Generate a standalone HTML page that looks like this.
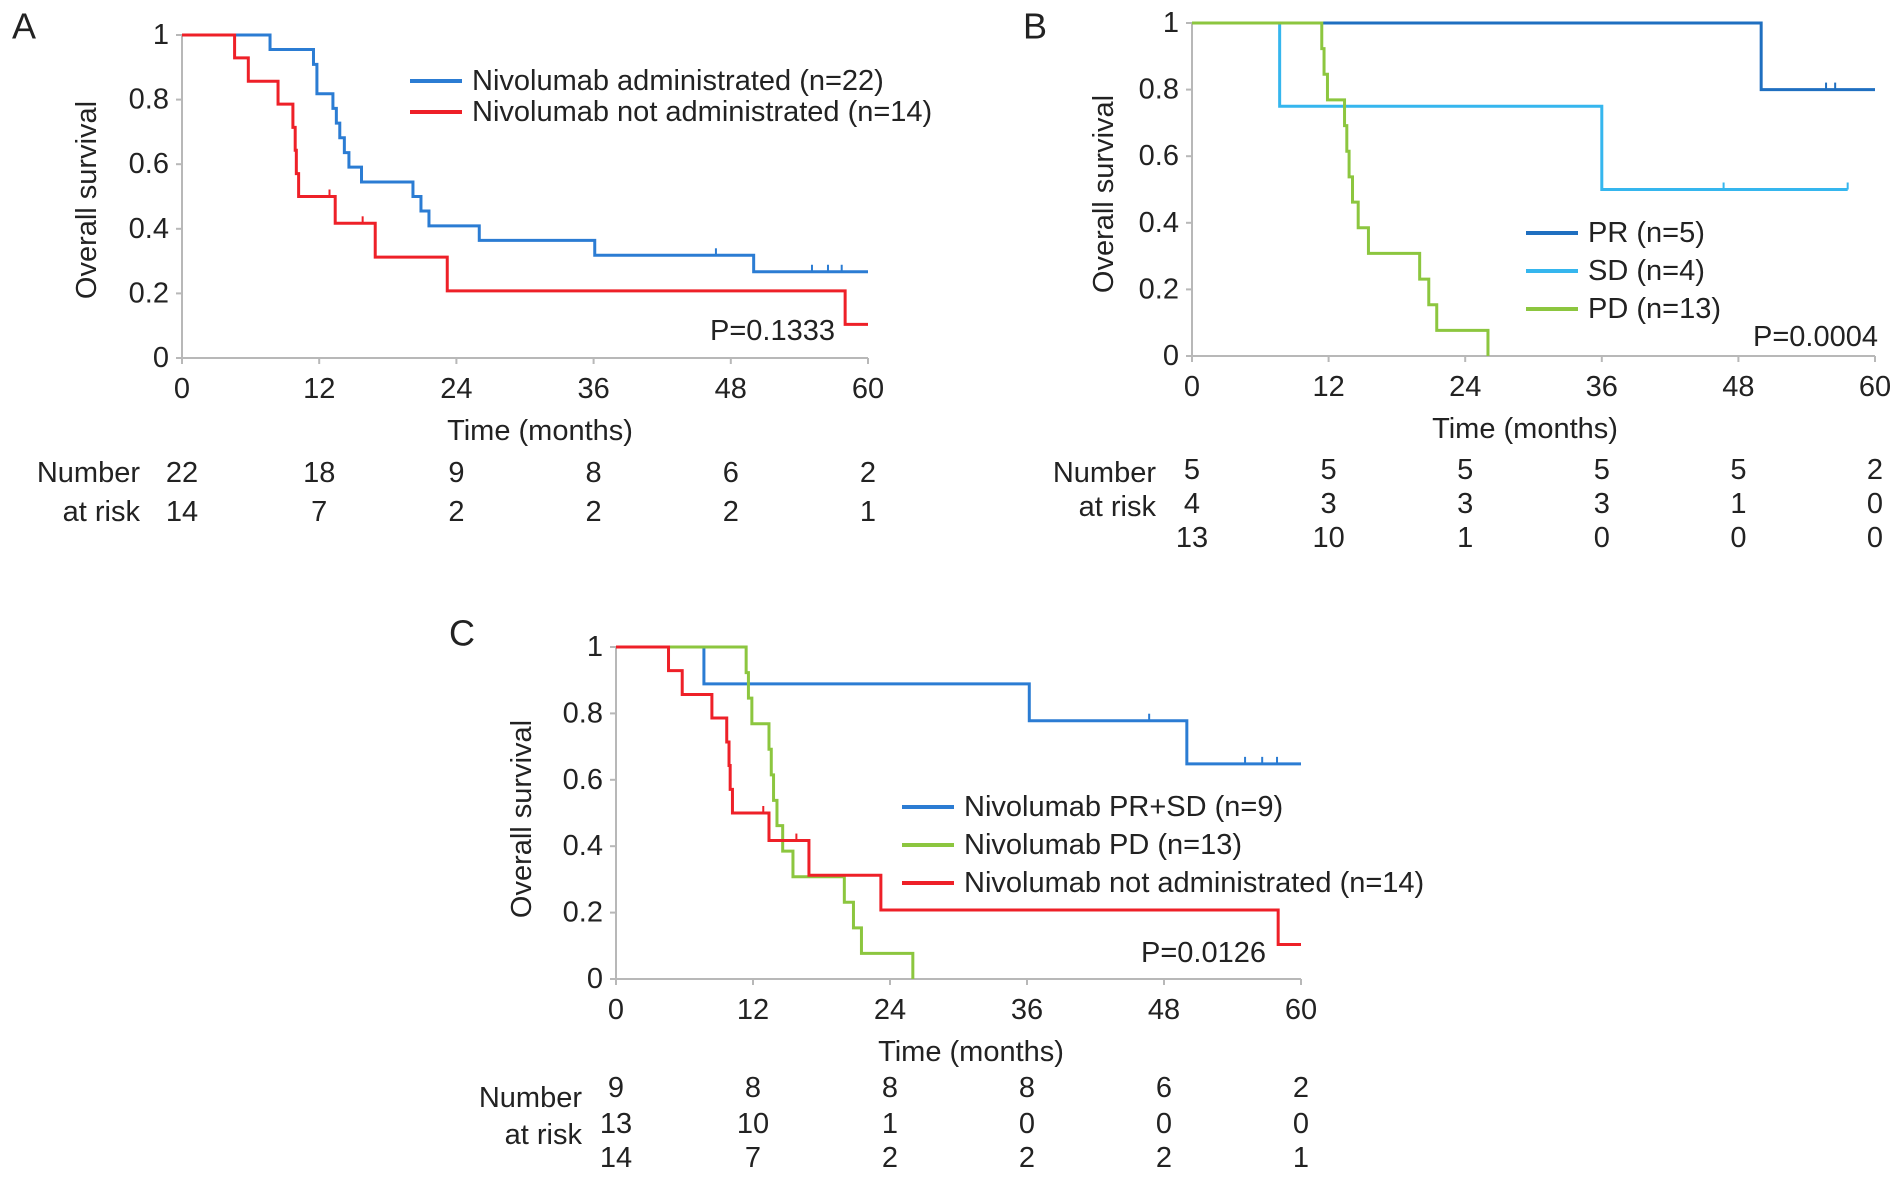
<!DOCTYPE html>
<html><head><meta charset="utf-8"><style>
html,body{margin:0;padding:0;background:#fff;}
svg{display:block;font-family:"Liberation Sans",Arial,sans-serif;}
text{fill:#222;}
</style></head><body>
<svg id="fig" width="1899" height="1177" viewBox="0 0 1899 1177" xmlns="http://www.w3.org/2000/svg"></svg>
<script>
// ---- data ----
const xTicks = [0,12,24,36,48,60];
const yTicks = [0,0.2,0.4,0.6,0.8,1];
const yTickLabels = ["0","0.2","0.4","0.6","0.8","1"];
// Panel A
const blueATimes = [0,7.7,11.5,11.8,13.2,13.5,13.8,14.2,14.6,15.7,20.2,20.9,21.6,26,36.1,50,60];
const blueASurv  = [1,0.955,0.909,0.818,0.773,0.727,0.682,0.636,0.591,0.545,0.5,0.455,0.409,0.364,0.318,0.267,0.267];
const blueACens  = [46.7,55.1,56.5,57.7];
const redTimes = [0,4.6,5.8,8.4,9.7,9.9,10.0,10.2,13.4,16.9,23.2,58,60];
const redSurv  = [1,0.929,0.857,0.786,0.714,0.643,0.571,0.5,0.417,0.3125,0.208,0.104,0.104];
const redCens  = [12.9,15.8];
// Panel B
const prTimes = [0,50,60];
const prSurv  = [1,0.8,0.8];
const prCens  = [55.7,56.5];
const sdTimes = [0,7.7,36,57.6];
const sdSurv  = [1,0.75,0.5,0.5];
const sdCens  = [46.7,57.6];
const pdTimes = [0,11.4,11.6,11.9,13.4,13.6,13.8,14.1,14.6,15.5,20,20.8,21.5,26];
const pdSurv  = [1,0.923,0.846,0.769,0.692,0.615,0.538,0.462,0.385,0.308,0.231,0.154,0.077,0];
// Panel C
const blueCTimes = [0,7.7,36.2,50,60];
const blueCSurv  = [1,0.889,0.778,0.648,0.648];
const blueCCens  = [46.7,55.1,56.6,57.9];
// at-risk tables
const riskA = [[22,18,9,8,6,2],[14,7,2,2,2,1]];
const riskB = [[5,5,5,5,5,2],[4,3,3,3,1,0],[13,10,1,0,0,0]];
const riskC = [[9,8,8,8,6,2],[13,10,1,0,0,0],[14,7,2,2,2,1]];

const NS="http://www.w3.org/2000/svg";
const svg=document.getElementById('fig');
const FS=29;
function mk(tag,attrs,parent){const e=document.createElementNS(NS,tag);for(const k in attrs)e.setAttribute(k,attrs[k]);(parent||svg).appendChild(e);return e;}
function txt(s,x,y,anchor,size,parent){const t=mk('text',{x:x,y:y,'text-anchor':anchor,'font-size':size||FS,'dominant-baseline':'central'},parent);t.textContent=s;return t;}

const BLUE="#2b7cd3", RED="#ee2028", GREEN="#8cc63f", PRB="#1f6fc0", SDB="#35b6ee";

function panel(cfg){
  const g=mk('g',{});
  
  
  const X=t=>cfg.x0+(cfg.x1-cfg.x0)*t/60;
  const Y=v=>cfg.y0+(cfg.y1-cfg.y0)*v;
  const ax=mk('path',{d:`M${X(0)},${Y(1)} V${Y(0)} H${X(60)}`,stroke:'#b8b8b8','stroke-width':2,fill:'none'},g);
  
  
  xTicks.forEach(t=>{
    mk('line',{x1:X(t),x2:X(t),y1:Y(0),y2:Y(0)+6,stroke:'#b8b8b8','stroke-width':2},g);
    const l=txt(String(t),X(t),Y(0)+31,'middle',FS,g);
    
    
  });
  yTicks.forEach((v,i)=>{
    mk('line',{x1:X(0)-6,x2:X(0),y1:Y(v),y2:Y(v),stroke:'#b8b8b8','stroke-width':2},g);
    const l=txt(yTickLabels[i],X(0)-13,Y(v),'end',FS,g);
    
    
  });
  const xt=txt('Time (months)',cfg.xTitleX,Y(0)+73,'middle',FS,g);
  
  
  const yt=txt('Overall survival',0,0,'middle',FS,g);
  yt.setAttribute('transform',`translate(${cfg.yTitleX},${cfg.yTitleY}) rotate(-90)`);
  
  
  const pl=txt(cfg.letter,cfg.letterX,cfg.letterY,'start',36,g);
  
  
  const pv=txt(cfg.p,cfg.pX,cfg.pY,'end',FS,g);
  
  
  cfg.series.forEach(s=>{
    let d=`M${X(s.t[0])},${Y(s.s[0])}`;
    for(let i=1;i<s.t.length;i++){d+=` H${X(s.t[i])} V${Y(s.s[i])}`;}
    const p=mk('path',{d:d,stroke:s.color,'stroke-width':3,fill:'none'},g);
    
    
    (s.c||[]).forEach(ct=>{
      let v=s.s[0];
      for(let i=0;i<s.t.length;i++){if(s.t[i]<=ct)v=s.s[i];}
      const m=mk('line',{x1:X(ct),x2:X(ct),y1:Y(v),y2:Y(v)-7,stroke:s.color,'stroke-width':2},g);
      
      
    });
  });
  cfg.series.forEach((s,i)=>{
    const ly=cfg.legY[i];
    const ll=mk('line',{x1:cfg.legX,x2:cfg.legX+52,y1:ly,y2:ly,stroke:s.color,'stroke-width':4},g);
    
    
    const lt=txt(s.label,cfg.legX+62,ly,'start',FS,g);
    
    
  });
  const n1=txt('Number',cfg.riskLabelX,cfg.numY,'end',FS,g);
  
  
  const n2=txt('at risk',cfg.riskLabelX,cfg.atY,'end',FS,g);
  
  
  cfg.risk.forEach((row,r)=>{
    row.forEach((v,i)=>{
      const c=txt(String(v),X(xTicks[i]),cfg.riskY[r],'middle',FS,g);
      
      
    });
  });
}

panel({name:'panel-a',letter:'A',letterX:12,letterY:26,x0:182,x1:868,y0:358,y1:35,
  xTitleX:540,yTitleX:87,yTitleY:200,pX:835,pY:331,p:'P=0.1333',legX:410,legY:[81,112],
  series:[{key:'nivolumab-administrated',label:'Nivolumab administrated (n=22)',color:BLUE,t:blueATimes,s:blueASurv,c:blueACens},
          {key:'nivolumab-not-administrated',label:'Nivolumab not administrated (n=14)',color:RED,t:redTimes,s:redSurv,c:redCens}],
  riskLabelX:140,numY:473,atY:512,risk:riskA,riskY:[473,512]});

panel({name:'panel-b',letter:'B',letterX:1023,letterY:26,x0:1192,x1:1875,y0:356,y1:23,
  xTitleX:1525,yTitleX:1104,yTitleY:194,pX:1878,pY:337,p:'P=0.0004',legX:1526,legY:[233,271,309],
  series:[{key:'pr',label:'PR (n=5)',color:PRB,t:prTimes,s:prSurv,c:prCens},
          {key:'sd',label:'SD (n=4)',color:SDB,t:sdTimes,s:sdSurv,c:sdCens},
          {key:'pd',label:'PD (n=13)',color:GREEN,t:pdTimes,s:pdSurv,c:[]}],
  riskLabelX:1156,numY:473,atY:507,risk:riskB,riskY:[470,504,538]});

panel({name:'panel-c',letter:'C',letterX:449,letterY:633,x0:616,x1:1301,y0:979,y1:647,
  xTitleX:971,yTitleX:522,yTitleY:819,pX:1266,pY:953,p:'P=0.0126',legX:902,legY:[807,845,883],
  series:[{key:'nivolumab-pr-sd',label:'Nivolumab PR+SD (n=9)',color:BLUE,t:blueCTimes,s:blueCSurv,c:blueCCens},
          {key:'nivolumab-pd',label:'Nivolumab PD (n=13)',color:GREEN,t:pdTimes,s:pdSurv,c:[]},
          {key:'nivolumab-not-administrated',label:'Nivolumab not administrated (n=14)',color:RED,t:redTimes,s:redSurv,c:redCens}],
  riskLabelX:582,numY:1098,atY:1135,risk:riskC,riskY:[1088,1124,1158]});
</script>
</body></html>
